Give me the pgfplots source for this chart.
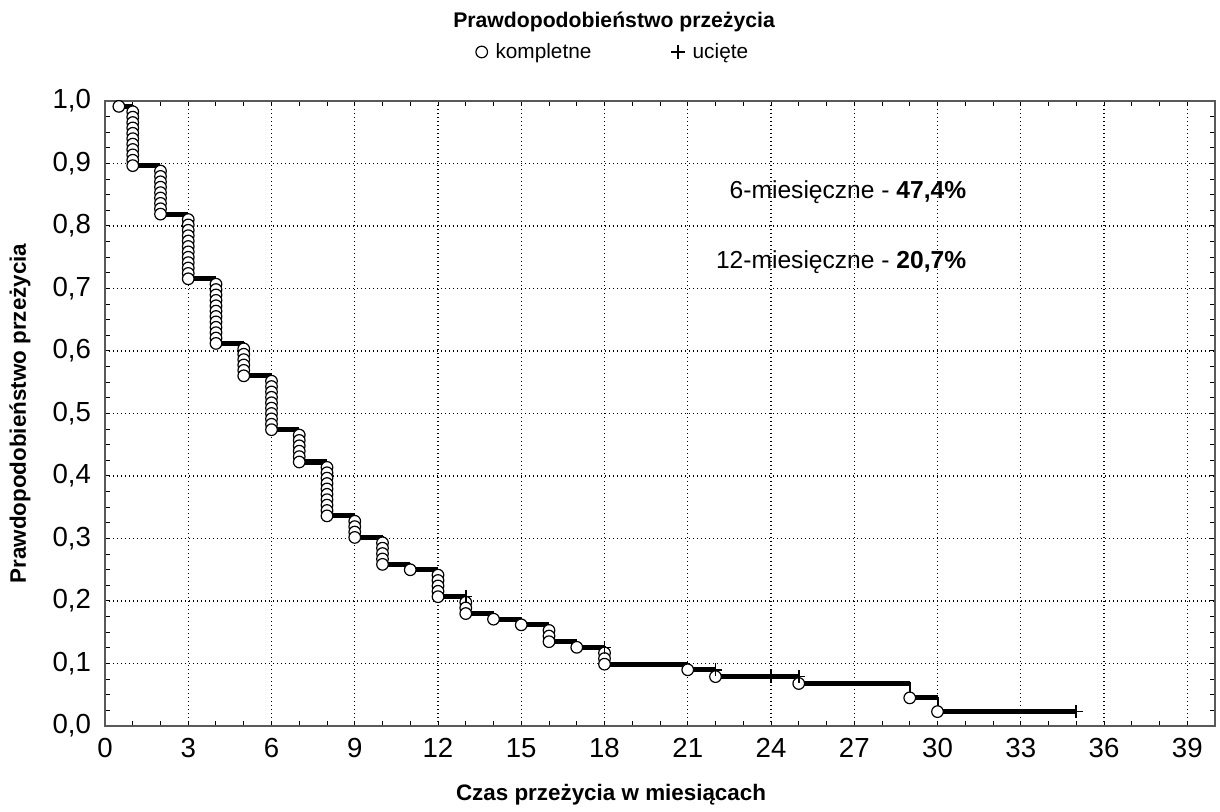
\documentclass[border=0pt]{standalone}
\usepackage{fontspec}
\setmainfont{Liberation Sans}
\usepackage{pgfplots}
\pgfplotsset{compat=1.18}
\pgfplotsset{dotlegend/.style={legend image code/.code={\draw[##1] plot coordinates {(0cm,0cm)};}}}
\begin{document}
\begin{tikzpicture}
\begin{axis}[name=ax, scale only axis, width=555pt, height=312.5pt,
  xmin=0, xmax=40, ymin=0, ymax=1,
  xtick={0,3,6,9,12,15,18,21,24,27,30,33,36,39},
  ytick={0,0.1,0.2,0.3,0.4,0.5,0.6,0.7,0.8,0.9,1.0},
  minor x tick num=2, minor y tick num=3,
  tick align=inside, tick pos=both,
  major tick length=2.5pt, minor tick length=2.5pt,
  tick style={black, line width=0.5pt},
  axis line style={draw=black!65, line width=1pt},
  grid=major,
  major grid style={black, line width=0.6pt, dash pattern=on 0.6pt off 1.4pt},
  /pgf/number format/assume math mode=true,
  ticklabel style={font=\fontsize{13.8}{15}\selectfont},
  yticklabel={\pgfmathprintnumber[fixed,fixed zerofill,precision=1,use comma]{\tick}},
  yticklabel style={xshift=-3.5pt},
  xticklabel style={yshift=-2.5pt},
  unbounded coords=jump,
  clip=false,
  legend columns=2,
  legend style={draw=none, fill=none, at={(axis description cs:0.4586,1.0784)}, anchor=center,
    font=\fontsize{10.4}{12}\selectfont,
    /tikz/every odd column/.append style={column sep=2pt},
    /tikz/every even column/.append style={column sep=38pt}},
]
% thin verticals of the step function
\addplot[black, line width=1pt, const plot, forget plot] coordinates {
(0.5,0.9914) (1,0.8966) (2,0.8190) (3,0.7155) (4,0.6121) (5,0.5603) (6,0.4741)
(7,0.4224) (8,0.3362) (9,0.3017) (10,0.2586) (11,0.2500) (12,0.2069) (13,0.1799)
(14,0.1709) (15,0.1619) (16,0.1349) (17,0.1259) (18,0.0989) (21,0.0900) (22,0.0790)
(25,0.0680) (29,0.0450) (30,0.0230) (35,0.0230)};
% thick horizontal segments
\addplot[black, line width=2.6pt, forget plot] coordinates {
(0.5,0.9914) (1,0.9914) (1,nan)
(1,0.8966) (2,0.8966) (2,nan)
(2,0.8190) (3,0.8190) (3,nan)
(3,0.7155) (4,0.7155) (4,nan)
(4,0.6121) (5,0.6121) (5,nan)
(5,0.5603) (6,0.5603) (6,nan)
(6,0.4741) (7,0.4741) (7,nan)
(7,0.4224) (8,0.4224) (8,nan)
(8,0.3362) (9,0.3362) (9,nan)
(9,0.3017) (10,0.3017) (10,nan)
(10,0.2586) (11,0.2586) (11,nan)
(11,0.2500) (12,0.2500) (12,nan)
(12,0.2069) (13,0.2069) (13,nan)
(13,0.1799) (14,0.1799) (14,nan)
(14,0.1709) (15,0.1709) (15,nan)
(15,0.1619) (16,0.1619) (16,nan)
(16,0.1349) (17,0.1349) (17,nan)
(17,0.1259) (18,0.1259) (18,nan)
(18,0.0989) (21,0.0989) (21,nan)
(21,0.0900) (22,0.0900) (22,nan)
(22,0.0790) (25,0.0790) (25,nan)
(25,0.0680) (29,0.0680) (29,nan)
(29,0.0450) (30,0.0450) (30,nan)
(30,0.0230) (35,0.0230)};
% complete observations
\addplot[only marks, mark=*, mark size=2.9pt,
  mark options={fill=white, draw=black, line width=0.6pt}, dotlegend] coordinates {
(0.5,0.9914)
(1,0.9828) (1,0.9741) (1,0.9655) (1,0.9569) (1,0.9483) (1,0.9397) (1,0.9310) (1,0.9224) (1,0.9138) (1,0.9052) (1,0.8966)
(2,0.8879) (2,0.8793) (2,0.8707) (2,0.8621) (2,0.8534) (2,0.8448) (2,0.8362) (2,0.8276) (2,0.8190)
(3,0.8103) (3,0.8017) (3,0.7931) (3,0.7845) (3,0.7759) (3,0.7672) (3,0.7586) (3,0.7500) (3,0.7414) (3,0.7328) (3,0.7241) (3,0.7155)
(4,0.7069) (4,0.6983) (4,0.6897) (4,0.6810) (4,0.6724) (4,0.6638) (4,0.6552) (4,0.6466) (4,0.6379) (4,0.6293) (4,0.6207) (4,0.6121)
(5,0.6034) (5,0.5948) (5,0.5862) (5,0.5776) (5,0.5690) (5,0.5603)
(6,0.5517) (6,0.5431) (6,0.5345) (6,0.5259) (6,0.5172) (6,0.5086) (6,0.5000) (6,0.4914) (6,0.4828) (6,0.4741)
(7,0.4655) (7,0.4569) (7,0.4483) (7,0.4397) (7,0.4310) (7,0.4224)
(8,0.4138) (8,0.4052) (8,0.3966) (8,0.3879) (8,0.3793) (8,0.3707) (8,0.3621) (8,0.3534) (8,0.3448) (8,0.3362)
(9,0.3276) (9,0.3190) (9,0.3103) (9,0.3017)
(10,0.2931) (10,0.2845) (10,0.2759) (10,0.2672) (10,0.2586)
(11,0.2500)
(12,0.2414) (12,0.2328) (12,0.2241) (12,0.2155) (12,0.2069)
(13,0.1979) (13,0.1889) (13,0.1799)
(14,0.1709)
(15,0.1619)
(16,0.1529) (16,0.1439) (16,0.1349)
(17,0.1259)
(18,0.1169) (18,0.1079) (18,0.0989)
(21,0.0900)
(22,0.0790)
(25,0.0680)
(29,0.0450)
(30,0.0230)};
\addlegendentry{kompletne}
% censored observations
\addplot[only marks, mark=+, mark size=3.3pt, mark options={black, line width=0.8pt}, dotlegend] coordinates {
(13,0.2069) (18,0.1259) (22,0.0900) (24,0.0790) (25,0.0790) (35,0.0230)};
\addlegendentry{ucięte}
\node[font=\bfseries\fontsize{10.6}{12}\selectfont] at (axis description cs:0.4586,1.1264) {Prawdopodobieństwo przeżycia};
\node[font=\bfseries\fontsize{11.2}{13}\selectfont] at (axis description cs:0.4559,-0.1104) {Czas przeżycia w miesiącach};
\node[font=\bfseries\fontsize{11.2}{13}\selectfont, rotate=90] at (axis description cs:-0.0766,0.5) {Prawdopodobieństwo przeżycia};
\node[anchor=east, inner sep=0pt, font=\fontsize{12.3}{14}\selectfont] at (axis cs:31.05,0.854) {6-miesięczne - \textbf{47,4\%}};
\node[anchor=east, inner sep=0pt, font=\fontsize{12.3}{14}\selectfont] at (axis cs:31.05,0.742) {12-miesięczne - \textbf{20,7\%}};
\end{axis}
\pgfresetboundingbox
\path[use as bounding box] ([shift={(-52.5pt,-43pt)}]ax.south west) rectangle ([shift={(2.5pt,50.5pt)}]ax.north east);
\end{tikzpicture}
\end{document}
